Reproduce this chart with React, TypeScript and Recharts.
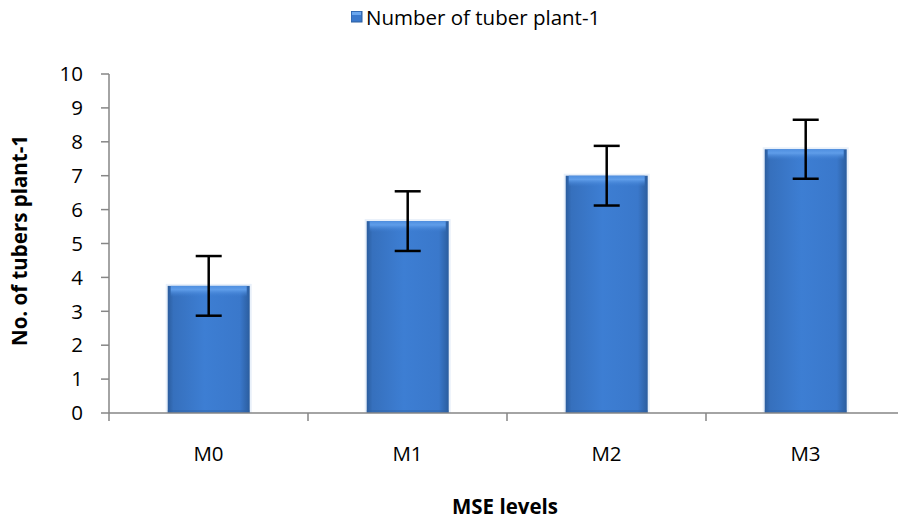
import React from 'react';
import { BarChart, Bar, XAxis, YAxis, ErrorBar, Legend, Label } from 'recharts';

const categories = ['M0', 'M1', 'M2', 'M3'];
const tubersPerPlant = [3.75, 5.66, 7.0, 7.78];
const errorValues = [0.88, 0.88, 0.88, 0.87];
const yTicks = [0, 1, 2, 3, 4, 5, 6, 7, 8, 9, 10];
const seriesName = 'Number of tuber plant-1';
const xTitle = 'MSE levels';
const yTitle = 'No. of tubers plant-1';

const data = categories.map((c, i) => ({ name: c, value: tubersPerPlant[i], err: errorValues[i] }));

const FONT = '"Open Sans", "Noto Sans", sans-serif';
const AXIS = '#868686';
const FS = 20.5;

const renderBar = (props: any) => {
  const x = Number(props.x);
  const y = Number(props.y);
  const width = Number(props.width);
  const height = Number(props.height);
  const index = props.index ?? 0;
  if (!(width > 0) || !(height > 0)) return <g key={`bar-${index}`} />;
  const bodyId = `barBody${index}`;
  const topId = `barTop${index}`;
  return (
    <g key={`bar-${index}`}>
      <defs>
        <linearGradient id={bodyId} x1="0" y1="0" x2="1" y2="0">
          <stop offset="0%" stopColor="#2b5d9e" />
          <stop offset="7%" stopColor="#3670bd" />
          <stop offset="45%" stopColor="#3d7ed3" />
          <stop offset="88%" stopColor="#3a78cb" />
          <stop offset="100%" stopColor="#2b5d9e" />
        </linearGradient>
        <linearGradient id={topId} x1="0" y1="0" x2="0" y2="1">
          <stop offset="0%" stopColor="#4f8fe0" />
          <stop offset="35%" stopColor="#5f9de9" />
          <stop offset="100%" stopColor="#3d7ed3" stopOpacity={0} />
        </linearGradient>
      </defs>
      <rect x={x - 2} y={y - 2} width={width + 4} height={height + 2} fill="#e8f0fa" />
      <rect x={x} y={y} width={width} height={height} fill={`url(#${bodyId})`} />
      <rect x={x + 3} y={y} width={width - 6} height={Math.min(11, height)} fill={`url(#${topId})`} />
      <rect x={x} y={y + height - 3} width={width} height={3} fill="#2d5f9f" opacity={0.35} />
    </g>
  );
};

const XTick = (props: any) => {
  const { x, y, payload } = props;
  const half = payload && typeof payload.offset === 'number' ? payload.offset : 0;
  return (
    <g>
      <line x1={x - half} y1={y} x2={x - half} y2={y + 8} stroke={AXIS} strokeWidth={1.5} />
      <text x={x} y={y + 48} textAnchor="middle" fontSize={FS} fontFamily={FONT} fill="#000">
        {payload.value}
      </text>
    </g>
  );
};

const LegendContent = () => (
  <div style={{ display: 'flex', alignItems: 'center', paddingLeft: 351, fontFamily: FONT, fontSize: FS, color: '#000', height: 30 }}>
    <svg width={12} height={12} style={{ marginRight: 3 }}>
      <rect x={0} y={0} width={11} height={11} fill="#3a78cc" stroke="#2c5f9f" strokeWidth={1} />
      <rect x={1} y={1} width={9} height={3} fill="#6aa6ee" />
    </svg>
    <span>{seriesName}</span>
  </div>
);

export default function App() {
  return (
    <div style={{ position: 'absolute', left: 0, top: 0, width: 898, height: 522, overflow: 'hidden', background: '#fff' }}>
      <BarChart
        width={920}
        height={522}
        data={data}
        margin={{ top: 44, right: 15, bottom: 0, left: 0 }}
        barCategoryGap="29.5%"
      >
        <Legend
          verticalAlign="top"
          align="left"
          height={30}
          content={<LegendContent />}
          wrapperStyle={{ top: 2, left: 0, width: 920 }}
        />
        <XAxis
          dataKey="name"
          height={109}
          axisLine={{ stroke: AXIS, strokeWidth: 1.5 }}
          tickLine={false}
          tickSize={0}
          tickMargin={0}
          tick={<XTick />}
        >
          <Label
            content={(p: any) => {
              const vb = p.viewBox || {};
              return (
                <text x={vb.x + vb.width / 2 - 2} y={514} textAnchor="middle" fontSize={FS} fontWeight="bold" fontFamily={FONT} fill="#000">
                  {xTitle}
                </text>
              );
            }}
          />
        </XAxis>
        <YAxis
          width={109}
          domain={[0, 10]}
          ticks={yTicks}
          interval={0}
          axisLine={{ stroke: AXIS, strokeWidth: 1.5 }}
          tickLine={{ stroke: AXIS, strokeWidth: 1.5 }}
          tickSize={8}
          tickMargin={18}
          tick={{ fontSize: FS, fontFamily: FONT, fill: '#000' }}
        >
          <Label
            content={(p: any) => {
              const vb = p.viewBox || {};
              const cy = vb.y + vb.height / 2 - 3;
              return (
                <text x={27} y={cy} transform={`rotate(-90, 27, ${cy})`} textAnchor="middle" fontSize={FS} fontWeight="bold" fontFamily={FONT} fill="#000">
                  {yTitle}
                </text>
              );
            }}
          />
        </YAxis>
        <Bar dataKey="value" name={seriesName} shape={renderBar} fill="#3d7ed3" isAnimationActive={false}>
          <ErrorBar dataKey="err" width={13} stroke="#000" strokeWidth={2.5} isAnimationActive={false} />
        </Bar>
      </BarChart>
    </div>
  );
}
